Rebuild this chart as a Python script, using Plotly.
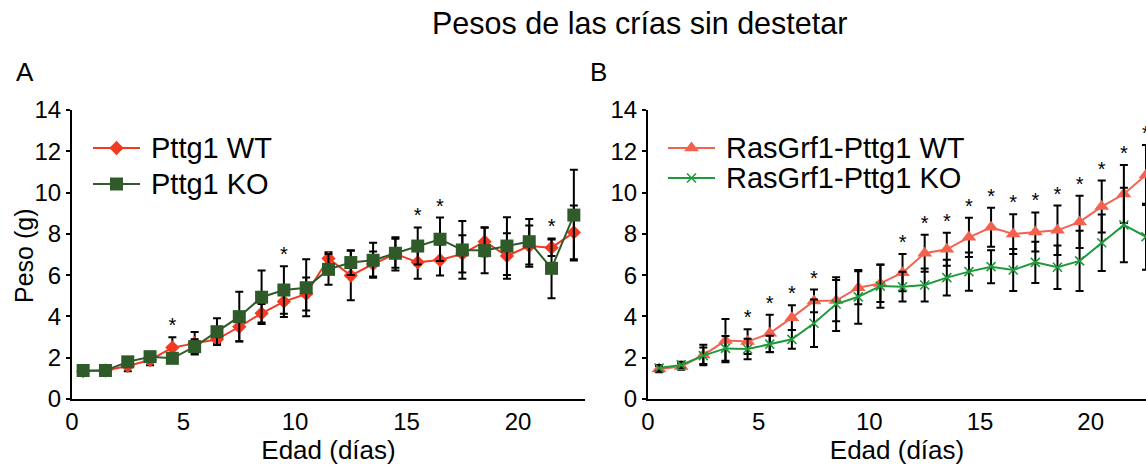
import plotly.graph_objects as go

W, H = 1146, 468

# Age of the pups (days)
days = [0.5, 1.5, 2.5, 3.5, 4.5, 5.5, 6.5, 7.5, 8.5, 9.5, 10.5, 11.5,
        12.5, 13.5, 14.5, 15.5, 16.5, 17.5, 18.5, 19.5, 20.5, 21.5, 22.5]

# Panel A: Pttg1 WT / KO mean weight (g) and error
a_wt = [1.35, 1.38, 1.60, 1.89, 2.49, 2.70, 2.89, 3.50, 4.15, 4.72, 5.09, 6.81,
        5.98, 6.54, 7.03, 6.62, 6.73, 7.03, 7.62, 6.93, 7.41, 7.33, 8.07]
a_wt_err = [0.12, 0.10, 0.25, 0.25, 0.50, 0.55, 0.20, 0.70, 0.45, 0.75, 0.80, 0.30,
            1.20, 0.60, 0.80, 0.80, 0.75, 0.90, 0.70, 1.10, 1.00, 0.40, 1.30]
a_ko = [1.38, 1.38, 1.80, 2.05, 1.97, 2.54, 3.26, 3.99, 4.93, 5.28, 5.39, 6.28,
        6.61, 6.72, 7.06, 7.41, 7.74, 7.22, 7.19, 7.41, 7.62, 6.33, 8.91]
a_ko_err = [0.12, 0.10, 0.15, 0.20, 0.20, 0.35, 0.65, 1.20, 1.30, 1.15, 1.38, 0.75,
            0.60, 0.85, 0.70, 0.90, 1.05, 1.40, 1.10, 1.40, 1.10, 1.45, 2.20]
a_sig = [4.5, 9.5, 15.5, 16.5, 21.5]

# Panel B: RasGrf1-Pttg1 WT / KO mean weight (g) and error
b_wt = [1.45, 1.57, 2.13, 2.83, 2.78, 3.18, 3.94, 4.75, 4.77, 5.39, 5.60, 6.12,
        7.06, 7.25, 7.83, 8.32, 7.99, 8.09, 8.17, 8.58, 9.32, 9.93, 10.85]
b_wt_err = [0.15, 0.15, 0.50, 1.05, 0.60, 0.90, 0.60, 0.55, 1.00, 0.80, 0.90, 0.90,
            0.90, 0.80, 0.95, 0.95, 0.96, 0.95, 1.20, 1.27, 1.26, 1.40, 1.45]
b_ko = [1.50, 1.65, 2.10, 2.45, 2.42, 2.66, 2.89, 3.67, 4.60, 4.95, 5.47, 5.44,
        5.52, 5.88, 6.17, 6.41, 6.25, 6.62, 6.38, 6.69, 7.57, 8.43, 7.86]
b_ko_err = [0.15, 0.15, 0.40, 0.60, 0.50, 0.40, 0.45, 1.15, 1.30, 1.30, 1.05, 0.72,
            0.80, 0.87, 0.93, 0.80, 1.02, 1.00, 1.05, 1.46, 1.37, 1.80, 1.60]
b_sig = [4.5, 5.5, 6.5, 7.5, 11.5, 12.5, 13.5, 14.5, 15.5, 16.5, 17.5, 18.5,
         19.5, 20.5, 21.5, 22.5]

C_A_WT = "#f23a22"
C_A_KO = "#2f5a29"
C_B_WT = "#f4624f"
C_B_KO = "#1e9a3b"
FONT = "Liberation Sans, Arial, sans-serif"

MK_A_WT = dict(symbol="diamond", size=11)
MK_A_KO = dict(symbol="square", size=13)
MK_B_WT = dict(symbol="triangle-up", size=13)
MK_B_KO = dict(symbol="x-thin", size=9, line=dict(width=1.6, color=C_B_KO))


def err_bar(vals):
    return dict(type="data", array=vals, color="black", thickness=2, width=4)


def star_heights(sig, wt, wt_e, ko, ko_e):
    out = []
    for d in sig:
        i = days.index(d)
        out.append(max(wt[i] + wt_e[i], ko[i] + ko_e[i]))
    return out


fig = go.Figure()

series = [
    ("x", "y", a_wt, a_wt_err, C_A_WT, MK_A_WT),
    ("x", "y", a_ko, a_ko_err, C_A_KO, MK_A_KO),
    ("x2", "y2", b_wt, b_wt_err, C_B_WT, MK_B_WT),
    ("x2", "y2", b_ko, b_ko_err, C_B_KO, MK_B_KO),
]
for xa, ya, vals, errs, col, mk in series:
    fig.add_trace(go.Scatter(
        x=days, y=vals, xaxis=xa, yaxis=ya, mode="lines+markers",
        line=dict(color=col, width=2), marker=dict(color=col, **mk),
        error_y=err_bar(errs), cliponaxis=False, showlegend=False))

# significance stars above the error bars
for xa, ya, sig, args in [("x", "y", a_sig, (a_wt, a_wt_err, a_ko, a_ko_err)),
                          ("x2", "y2", b_sig, (b_wt, b_wt_err, b_ko, b_ko_err))]:
    fig.add_trace(go.Scatter(
        x=sig, y=star_heights(sig, *args), xaxis=xa, yaxis=ya, mode="text",
        text=["*"] * len(sig), textposition="top center",
        textfont=dict(size=20, color="black", family=FONT),
        cliponaxis=False, showlegend=False))

# legend keys drawn on a pixel-space overlay axis
legend_rows = [
    (93, 140, 148, C_A_WT, MK_A_WT, "Pttg1 WT"),
    (93, 140, 184, C_A_KO, MK_A_KO, "Pttg1 KO"),
    (668, 715, 148, C_B_WT, MK_B_WT, "RasGrf1-Pttg1 WT"),
    (668, 715, 178, C_B_KO, MK_B_KO, "RasGrf1-Pttg1 KO"),
]
for x0, x1, yy, col, mk, label in legend_rows:
    fig.add_trace(go.Scatter(
        x=[x0, x1], y=[yy, yy], xaxis="x3", yaxis="y3", mode="lines",
        line=dict(color=col, width=2), showlegend=False, hoverinfo="skip"))
    fig.add_trace(go.Scatter(
        x=[(x0 + x1) / 2], y=[yy], xaxis="x3", yaxis="y3", mode="markers",
        marker=dict(color=col, **mk), showlegend=False, hoverinfo="skip"))
    fig.add_annotation(x=(x1 + 9) / W, y=1 - yy / H, xref="paper", yref="paper",
                       text=label, showarrow=False, xanchor="left", yanchor="middle",
                       font=dict(size=29, color="black", family=FONT))

axis_common = dict(showline=True, linecolor="black", linewidth=2, showgrid=False,
                   zeroline=False, automargin=False,
                   tickfont=dict(size=24, color="black", family=FONT))
x_common = dict(axis_common, ticks="", tickvals=[0, 5, 10, 15, 20],
                title=dict(text="Edad (días)", font=dict(size=26, family=FONT, color="black"),
                           standoff=4))
y_common = dict(axis_common, ticks="outside", ticklen=4, tickwidth=2, tickcolor="black",
                range=[0, 14], dtick=2, tick0=0)
ydom = [(H - 399) / H, (H - 110) / H]

fig.update_layout(
    width=W, height=H, margin=dict(l=0, r=0, t=0, b=0),
    plot_bgcolor="rgba(0,0,0,0)", paper_bgcolor="white",
    font=dict(family=FONT, color="black"),
    xaxis=dict(x_common, domain=[72 / W, 585 / W], range=[0, 23], anchor="y"),
    yaxis=dict(y_common, domain=ydom, anchor="x"),
    xaxis2=dict(x_common, domain=[648 / W, 1.0], range=[0, 22.5], anchor="y2"),
    yaxis2=dict(y_common, domain=ydom, anchor="x2"),
    xaxis3=dict(domain=[0, 1], range=[0, W], visible=False, anchor="y3", fixedrange=True),
    yaxis3=dict(domain=[0, 1], range=[H, 0], visible=False, anchor="x3", fixedrange=True),
    showlegend=False,
)

# y-axis title of panel A
fig.add_annotation(x=24 / W, y=1 - 256 / H, xref="paper", yref="paper",
                   text="Peso (g)", textangle=-90, showarrow=False,
                   xanchor="center", yanchor="middle",
                   font=dict(size=25, color="black", family=FONT))

fig.add_annotation(x=639 / W, y=1 - 23 / H, xref="paper", yref="paper",
                   text="Pesos de las crías sin destetar", showarrow=False,
                   xanchor="center", yanchor="middle",
                   font=dict(size=30.5, color="black", family=FONT))
for lbl, px in [("A", 25), ("B", 598)]:
    fig.add_annotation(x=px / W, y=1 - 72 / H, xref="paper", yref="paper", text=lbl,
                       showarrow=False, xanchor="center", yanchor="middle",
                       font=dict(size=26, color="black", family=FONT))

fig.write_html("out.html")
